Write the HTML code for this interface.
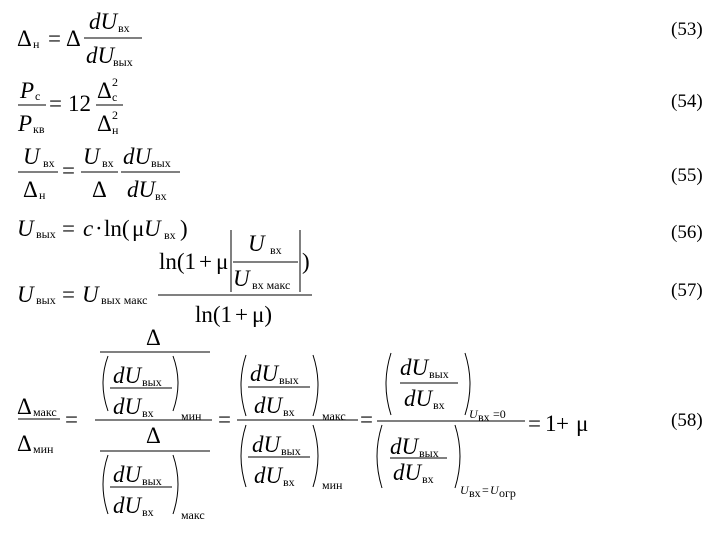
<!DOCTYPE html>
<html><head><meta charset="utf-8"><style>
html,body{margin:0;padding:0;background:#fff;width:720px;height:540px;overflow:hidden}
svg{display:block}
text{font-family:"Liberation Serif","DejaVu Serif",serif;fill:#000}
.m{font-size:23px}
.i{font-size:23px;font-style:italic}
.s{font-size:12px}
.n{font-size:19px}
</style></head><body>
<svg width="720" height="540" viewBox="0 0 720 540" xmlns="http://www.w3.org/2000/svg" stroke="#000" stroke-width="1">
<g stroke="none">
<!-- 53 -->
<text class="m" x="17" y="46">Δ</text><text class="s" x="33" y="48">н</text>
<text class="m" x="48" y="46">=</text><text class="m" x="66" y="46">Δ</text>
<text class="i" x="89" y="29">dU</text><text class="s" x="118" y="32">вх</text>
<text class="i" x="86" y="63">dU</text><text class="s" x="113" y="66">вых</text>
<text class="n" x="671" y="35">(53)</text>
<!-- 54 -->
<text class="i" x="20" y="98">P</text><text class="s" x="35" y="100">с</text>
<text class="i" x="18" y="131">P</text><text class="s" x="33" y="133">кв</text>
<text class="m" x="49" y="111">=</text><text class="m" x="68" y="111">12</text>
<text class="m" x="97" y="98">Δ</text><text class="s" x="112" y="86">2</text><text class="s" x="112" y="101">с</text>
<text class="m" x="97" y="131">Δ</text><text class="s" x="112" y="119">2</text><text class="s" x="112" y="134">н</text>
<text class="n" x="671" y="107">(54)</text>
<!-- 55 -->
<text class="i" x="23" y="164">U</text><text class="s" x="43" y="167">вх</text>
<text class="m" x="23" y="197">Δ</text><text class="s" x="39" y="199">н</text>
<text class="m" x="62" y="178">=</text>
<text class="i" x="83" y="164">U</text><text class="s" x="102" y="167">вх</text>
<text class="m" x="92" y="197">Δ</text>
<text class="i" x="123" y="164">dU</text><text class="s" x="151" y="167">вых</text>
<text class="i" x="127" y="197">dU</text><text class="s" x="155" y="200">вх</text>
<text class="n" x="671" y="181">(55)</text>
<!-- 56 -->
<text class="i" x="17" y="236">U</text><text class="s" x="36" y="238">вых</text>
<text class="m" x="62" y="236">=</text>
<text class="i" x="83" y="236">c</text>
<text class="m" x="95" y="236">·</text>
<text class="m" x="104" y="236">ln(</text>
<text class="m" x="132" y="236">μ</text>
<text class="i" x="144" y="236">U</text><text class="s" x="164" y="239">вх</text>
<text class="m" x="180" y="236">)</text>
<text class="n" x="671" y="238">(56)</text>
<!-- 57 -->
<text class="m" x="159" y="269">ln(1</text><text class="m" x="199" y="269">+</text><text class="m" x="216" y="269">μ</text>
<text class="i" x="248" y="251">U</text><text class="s" x="270" y="254">вх</text>
<text class="i" x="233" y="286">U</text><text class="s" x="252" y="289">вх макс</text>
<text class="m" x="302" y="269">)</text>
<text class="i" x="17" y="302">U</text><text class="s" x="36" y="304">вых</text>
<text class="m" x="62" y="302">=</text>
<text class="i" x="82" y="302">U</text><text class="s" x="101" y="304">вых макс</text>
<text class="m" x="195" y="322">ln(1</text><text class="m" x="235" y="322">+</text><text class="m" x="252" y="322">μ)</text>
<text class="n" x="671" y="296">(57)</text>
<!-- 58 -->
<text class="m" x="17" y="414">Δ</text><text class="s" x="33" y="416">макс</text>
<text class="m" x="17" y="451">Δ</text><text class="s" x="33" y="453">мин</text>
<text class="m" x="65" y="427">=</text>
<text class="m" x="146" y="345">Δ</text>
<text class="i" x="113" y="383">dU</text><text class="s" x="142" y="386">вых</text>
<text class="i" x="113" y="414">dU</text><text class="s" x="142" y="417">вх</text>
<text class="s" x="181" y="420">мин</text>
<text class="m" x="146" y="443">Δ</text>
<text class="i" x="113" y="482">dU</text><text class="s" x="142" y="485">вых</text>
<text class="i" x="113" y="513">dU</text><text class="s" x="142" y="516">вх</text>
<text class="s" x="181" y="519">макс</text>
<text class="m" x="218" y="427">=</text>
<text class="i" x="250" y="381">dU</text><text class="s" x="279" y="384">вых</text>
<text class="i" x="254" y="413">dU</text><text class="s" x="283" y="416">вх</text>
<text class="s" x="322" y="420">макс</text>
<text class="i" x="252" y="452">dU</text><text class="s" x="281" y="455">вых</text>
<text class="i" x="254" y="483">dU</text><text class="s" x="283" y="486">вх</text>
<text class="s" x="322" y="489">мин</text>
<text class="m" x="360" y="427">=</text>
<text class="i" x="400" y="375">dU</text><text class="s" x="429" y="378">вых</text>
<text class="i" x="404" y="406">dU</text><text class="s" x="433" y="409">вх</text>
<text class="s" x="469" y="418" font-style="italic">U</text><text class="s" x="478" y="421" font-size="9">вх</text><text class="s" x="493" y="418">=0</text>
<text class="i" x="390" y="454">dU</text><text class="s" x="419" y="457">вых</text>
<text class="i" x="393" y="480">dU</text><text class="s" x="422" y="483">вх</text>
<text class="s" x="460" y="494" font-style="italic">U</text><text class="s" x="469" y="497" font-size="9">вх</text><text class="s" x="482" y="494">=</text><text class="s" x="490" y="494" font-style="italic">U</text><text class="s" x="499" y="497" font-size="9">огр</text>
<text class="m" x="528" y="431">=</text><text class="m" x="545" y="431">1</text><text class="m" x="556" y="431">+</text><text class="m" x="576" y="431">μ</text>
<text class="n" x="671" y="426">(58)</text>
</g>
<g fill="none">
<line x1="84" y1="38" x2="142" y2="38"/>
<line x1="18" y1="105" x2="46" y2="105"/>
<line x1="96" y1="105" x2="123" y2="105"/>
<line x1="18" y1="172" x2="58" y2="172"/>
<line x1="81" y1="172" x2="118" y2="172"/>
<line x1="121" y1="172" x2="180" y2="172"/>
<line x1="233" y1="262" x2="298" y2="262"/>
<line x1="231" y1="230" x2="231" y2="292"/>
<line x1="300" y1="230" x2="300" y2="292"/>
<line x1="158" y1="295" x2="312" y2="295"/>
<line x1="18" y1="419" x2="60" y2="419"/>
<line x1="95" y1="420" x2="212" y2="420"/>
<line x1="100" y1="352" x2="210" y2="352"/>
<line x1="110" y1="388" x2="172" y2="388"/>
<line x1="100" y1="451" x2="210" y2="451"/>
<line x1="110" y1="487" x2="172" y2="487"/>
<line x1="237" y1="420" x2="358" y2="420"/>
<line x1="248" y1="387" x2="310" y2="387"/>
<line x1="248" y1="457" x2="310" y2="457"/>
<line x1="377" y1="421" x2="525" y2="421"/>
<line x1="400" y1="383" x2="458" y2="383"/>
<line x1="390" y1="458" x2="447" y2="458"/>
<!-- parens -->
<path d="M108 356 Q98 383 108 411"/><path d="M173 356 Q183 383 173 411"/>
<path d="M108 455 Q98 484 108 514"/><path d="M173 455 Q183 484 173 514"/>
<path d="M246 355 Q236 385 246 416"/><path d="M313 355 Q323 385 313 416"/>
<path d="M246 425 Q236 456 246 487"/><path d="M313 425 Q323 456 313 487"/>
<path d="M391 353 Q381 384 391 415"/><path d="M465 353 Q475 384 465 415"/>
<path d="M382 425 Q372 456 382 488"/><path d="M455 425 Q465 456 455 488"/>
</g>
</svg>
</body></html>
